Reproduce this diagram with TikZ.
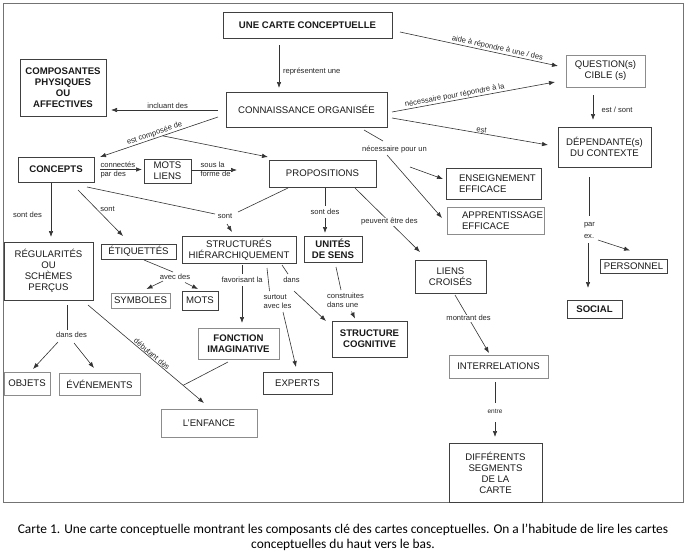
\documentclass[tikz,border=0pt]{standalone}
\usepackage{fontspec}
\setmainfont{Liberation Sans}
\newfontfamily\capfont{Carlito}
\usetikzlibrary{arrows.meta}
\newcommand\myleftbox[2]{\makebox[#1][l]{#2}}
\begin{document}
\begin{tikzpicture}[x=1pt,y=-1pt,
  box/.style={draw=black!75, line width=0.8pt, inner sep=0pt, align=center, font=\fontsize{9.6}{11}\selectfont, text=black!90},
  gbox/.style={box, draw=black!45},
  bbox/.style={box, font=\fontsize{9.6}{11}\selectfont\bfseries},
  gbbox/.style={bbox, draw=black!45},
  wh/.style 2 args={minimum width=#1pt, minimum height=#2pt},
  lbl/.style={inner sep=0.8pt, font=\fontsize{7.6}{8.6}\selectfont, text=black!85},
  con/.style={draw=black!80, line width=0.6pt},
  arr/.style={con, -{Latex[length=6pt,width=4.5pt]}},
  rarr/.style={con, {Latex[length=6pt,width=4.5pt]}-},
]
\useasboundingbox (0,0) rectangle (686,557);
\draw[black!55, line width=1pt] (3,3) rectangle (683,502);

% nodes
\node[bbox, wh={169}{26}] (carte) at (307.5,25) {UNE CARTE CONCEPTUELLE};
\node[box, wh={161}{35}] (conn) at (306.5,109.5) {CONNAISSANCE ORGANISÉE};
\node[bbox, wh={86}{57}] (comp) at (63,87.5) {COMPOSANTES\\PHYSIQUES\\OU\\AFFECTIVES};
\node[bbox, wh={76}{25}] (concepts) at (56,169.5) {CONCEPTS};
\node[box, wh={47}{24}] (motsliens) at (167.5,171) {MOTS\\LIENS};
\node[box, wh={107}{27}] (props) at (322.5,173.5) {PROPOSITIONS};
\node[gbox, wh={79}{32}] (question) at (605.5,71) {QUESTION(s)\\CIBLE (s)};
\node[box, wh={93}{40}] (dep) at (604.5,147) {DÉPENDANTE(s)\\DU CONTEXTE};
\node[box, wh={95}{31}, align=left] (ens) at (493.5,183.5) {\myleftbox{69pt}{ENSEIGNEMENT}\\\myleftbox{69pt}{EFFICACE}};
\node[gbox, wh={97}{27}, align=left] (app) at (495.5,220.5) {\myleftbox{67pt}{APPRENTISSAGE}\\\myleftbox{67pt}{EFFICACE}};
\node[box, wh={75}{15}] (etiq) at (138.5,251.5) {ÉTIQUETTÉS};
\node[box, wh={114}{27}] (struct) at (239,249.5) {STRUCTURÉS\\HIÉRARCHIQUEMENT};
\node[bbox, wh={58}{26}] (unites) at (333,249) {UNITÉS\\DE SENS};
\node[box, wh={89}{58}] (reg) at (48.5,271) {RÉGULARITÉS\\OU\\SCHÈMES\\PERÇUS};
\node[gbox, wh={59}{15}] (symb) at (140.5,300.5) {SYMBOLES};
\node[box, wh={36}{19}] (mots) at (200,300.5) {MOTS};
\node[box, wh={71}{33}] (liens) at (450.5,276.5) {LIENS\\CROISÉS};
\node[gbbox, wh={81}{31}] (fonction) at (238.5,343.5) {FONCTION\\IMAGINATIVE};
\node[bbox, wh={75}{36}] (cogn) at (369.5,339) {STRUCTURE\\COGNITIVE};
\node[gbox, wh={46}{23}] (objets) at (27,383.5) {OBJETS};
\node[gbox, wh={81}{22}] (evts) at (99.5,384) {ÉVÉNEMENTS};
\node[box, wh={69}{22}] (experts) at (297.5,383) {EXPERTS};
\node[gbox, wh={96}{28}] (enfance) at (209,423) {L{\char"27}ENFANCE};
\node[gbox, wh={99}{23}] (inter) at (498.5,366.5) {INTERRELATIONS};
\node[box, wh={93}{59}] (diff) at (495.5,472.5) {DIFFÉRENTS\\SEGMENTS\\DE LA\\CARTE};
\node[box, wh={67}{14}] (perso) at (633.5,266) {PERSONNEL};
\node[bbox, wh={55}{18}] (social) at (594.5,309) {SOCIAL};

% label nodes
\node[lbl, anchor=west] (lA) at (282,71) {représentent une};
\node[lbl, align=left, anchor=west] (lH) at (99.5,170) {connectés\\par des};
\node[lbl, align=left, anchor=west] (lI) at (199.5,169.5) {sous la\\forme de};
\node[lbl] (lJ) at (27.5,215) {sont des};
\node[lbl] (lK) at (107.5,209) {sont};
\node[lbl] (lL) at (225,216) {sont};
\node[lbl] (lO) at (394.5,149) {nécessaire pour un};
\node[lbl] (lP) at (617,110) {est / sont};
\node[lbl, align=left, font=\fontsize{7.6}{12}\selectfont] (lQ) at (589.5,230.5) {par\\ex.};
\node[lbl] (lR) at (175,277) {avec des};
\node[lbl, align=left] (lT) at (277.5,301.5) {surtout\\avec les};
\node[lbl] (lU) at (291.5,280) {dans};
\node[lbl, align=left] (lV) at (345.5,300) {construites\\dans une};
\node[lbl] (lW) at (71.5,335) {dans des};
\node[lbl, font=\fontsize{6.5}{7}\selectfont] (lZ) at (495,411) {entre};

% connectors
\draw[arr] ([shift={(-28.5,20)}]carte.center) -- ([shift={(-27.5,-21.5)}]conn.center);
\draw[arr] ([shift={(92.5,7)}]carte.center) -- ([shift={(-47.5,-5)}]question.center)
  node[lbl, sloped, above, pos=0.61] (lB) {aide à répondre à une / des};
\draw[arr] ([shift={(85.5,2.5)}]conn.center) -- ([shift={(-50.5,11)}]question.center)
  node[lbl, sloped, above, pos=0.39] (lC) {nécessaire pour répondre à la};
\draw[arr] ([shift={(85.5,8.5)}]conn.center) -- ([shift={(-56.5,-2)}]dep.center)
  node[lbl, sloped, above, pos=0.57] (lD) {est};
\draw[arr] ([shift={(-88.5,0.5)}]conn.center) -- ([shift={(48,22.5)}]comp.center)
  node[lbl, above, pos=0.47] (lE) {incluant des};
\draw[rarr] ([shift={(44,-12.5)}]concepts.center) -- ([shift={(-88.5,7.5)}]conn.center)
  node[lbl, sloped, above, pos=0.475] (lF) {est composée de} coordinate[pos=0.53] (brF);
\draw[arr] (brF) -- ([shift={(-54.5,-16.5)}]props.center);
\draw[arr] ([shift={(44,0)}]concepts.center) -- ([shift={(-25.5,-1.5)}]motsliens.center);
\draw[arr] ([shift={(23.5,-1)}]motsliens.center) -- ([shift={(-85.5,-3.5)}]props.center);
\draw[arr] ([shift={(-5,13.5)}]concepts.center) -- ([shift={(2.5,-34)}]reg.center);
\draw[arr] ([shift={(22,20.5)}]concepts.center) -- ([shift={(-15.5,-15.5)}]etiq.center);
\draw[con] ([shift={(31,17.5)}]concepts.center) -- ([shift={(-10,-2)}]lL.center);
\draw[con] ([shift={(-34.5,14.5)}]props.center) -- ([shift={(13,-4)}]lL.center);
\draw[arr] ([shift={(2,8)}]lL.center) -- ([shift={(-7,-17.5)}]struct.center);
\draw[arr] ([shift={(2.5,14.5)}]props.center) -- ([shift={(-8,-16)}]unites.center)
  node[lbl, fill=white, pos=0.53, inner ysep=3pt] (lM) {sont des};
\draw[arr] ([shift={(32.5,14.5)}]props.center) -- ([shift={(-30.5,-24.5)}]liens.center)
  node[lbl, fill=white, pos=0.53] (lN) {peuvent être des};
\draw[con] ([shift={(57.5,20.5)}]conn.center) -- ([shift={(-11.5,-8)}]lO.center);
\draw[arr] ([shift={(15.5,18)}]lO.center) -- ([shift={(-50.5,-4.5)}]ens.center);
\draw[arr] ([shift={(-7.5,6)}]lO.center) -- ([shift={(-53.5,-2.5)}]app.center);
\draw[arr] ([shift={(-12.5,24)}]question.center) -- ([shift={(-11.5,-27)}]dep.center);
\draw[con] ([shift={(-15.5,30)}]dep.center) -- ([shift={(-0.5,-14.5)}]lQ.center);
\draw[arr] ([shift={(-1.5,12.5)}]lQ.center) -- ([shift={(-6.5,-21)}]social.center);
\draw[arr] ([shift={(8.5,9.5)}]lQ.center) -- ([shift={(-3.5,-15.5)}]perso.center);
\draw[con] ([shift={(5.5,8.5)}]etiq.center) -- ([shift={(-2,-5)}]lR.center);
\draw[arr] ([shift={(-12,4)}]lR.center) -- ([shift={(6,-11.5)}]symb.center);
\draw[arr] ([shift={(10,5.5)}]lR.center) -- ([shift={(-2,-11.5)}]mots.center);
\draw[arr] ([shift={(3,15.5)}]struct.center) -- ([shift={(3.5,-20.5)}]fonction.center)
  node[lbl, fill=white, pos=0.26, inner ysep=3pt] (lS) {favorisant la};
\draw[con] ([shift={(28,18.5)}]struct.center) -- ([shift={(-8,-10.5)}]lT.center);
\draw[arr] ([shift={(5.5,10.5)}]lT.center) -- ([shift={(-1.5,-16)}]experts.center);
\draw[con] ([shift={(43,15.5)}]struct.center) -- ([shift={(-3.5,-6)}]lU.center);
\draw[arr] ([shift={(2.5,11)}]lU.center) -- ([shift={(-43.5,-18)}]cogn.center);
\draw[con] ([shift={(3,18)}]unites.center) -- ([shift={(-4.5,-10)}]lV.center);
\draw[arr] ([shift={(6,11.5)}]lV.center) -- ([shift={(-14.5,-20.5)}]cogn.center);
\draw[con] ([shift={(18.5,34)}]reg.center) -- ([shift={(-4.5,-5)}]lW.center);
\draw[arr] ([shift={(-13.5,7)}]lW.center) -- ([shift={(6,-14.5)}]objets.center);
\draw[arr] ([shift={(2.5,8)}]lW.center) -- ([shift={(-5.5,-16)}]evts.center);
\draw[arr] ([shift={(39.5,34)}]reg.center) -- ([shift={(-5,-20)}]enfance.center)
  node[lbl, sloped, above, pos=0.53] (lX) {débutant dès} coordinate[pos=0.82] (mX);
\draw[con] ([shift={(-10.5,18.5)}]fonction.center) -- (mX);
\draw[arr] ([shift={(4.5,18.5)}]liens.center) -- ([shift={(-9.5,-13.5)}]inter.center)
  node[lbl, fill=white, pos=0.4] (lY) {montrant des};
\draw[con] ([shift={(-3.5,15.5)}]inter.center) -- ([shift={(0,-8)}]lZ.center);
\draw[arr] ([shift={(0,11)}]lZ.center) -- ([shift={(-0.5,-35.5)}]diff.center);

% caption
\node[font=\capfont\fontsize{13.4}{15}\selectfont, align=center, text=black] (cap) at (343,537)
  {Carte 1. Une carte conceptuelle montrant les composants clé des cartes conceptuelles. On a l’habitude de lire les cartes\\conceptuelles du haut vers le bas.};
\end{tikzpicture}
\end{document}
